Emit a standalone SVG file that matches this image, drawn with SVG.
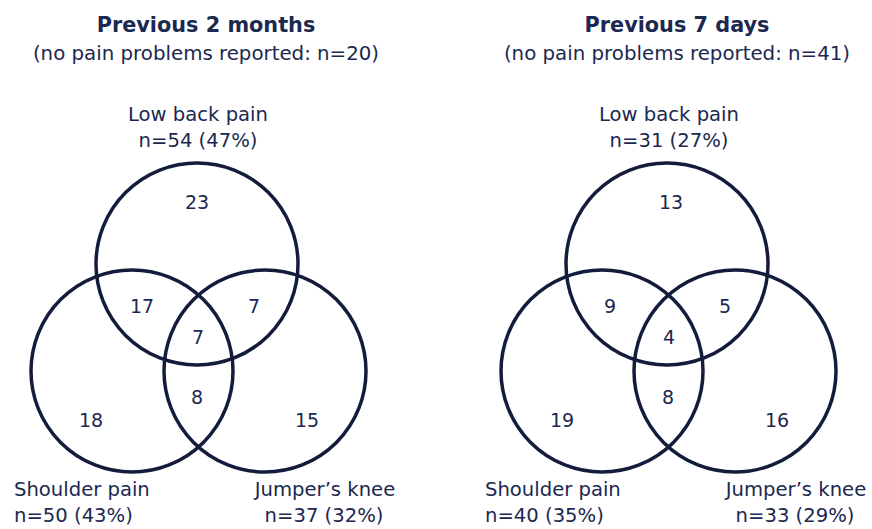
<svg xmlns="http://www.w3.org/2000/svg" width="872" height="529" viewBox="0 0 872 529">
<style>
text{font-family:"DejaVu Sans","Liberation Sans",sans-serif;fill:#1b2850;}
.t{font-size:20.8px;font-weight:bold;text-anchor:middle;}
.s{font-size:19.8px;text-anchor:middle;}
.l{font-size:19.6px;}
.c{font-size:19.6px;text-anchor:middle;}
.n{font-size:19px;text-anchor:middle;}
circle{fill:none;stroke:#141c3c;stroke-width:3.5;}
</style>
<rect width="872" height="529" fill="#ffffff"/>
<g id="left-panel">
<text class="t" x="206" y="32">Previous 2 months</text>
<text class="s" x="206" y="60">(no pain problems reported: n=20)</text>
<g id="L-lowback">
<circle cx="197" cy="264" r="101"/>
<text class="c" x="198" y="121">Low back pain</text>
<text class="c" x="198" y="147">n=54 (47%)</text>
</g>
<g id="L-shoulder">
<circle cx="132" cy="371" r="101"/>
<text class="l" x="14" y="496">Shoulder pain</text>
<text class="l" x="14" y="522">n=50 (43%)</text>
</g>
<g id="L-knee">
<circle cx="265" cy="371" r="101"/>
<text class="c" x="325" y="496">Jumper’s knee</text>
<text class="c" x="324" y="522">n=37 (32%)</text>
</g>
<g id="L-counts">
<text class="n" x="197" y="209">23</text>
<text class="n" x="142" y="313">17</text>
<text class="n" x="254" y="313">7</text>
<text class="n" x="198" y="344">7</text>
<text class="n" x="197" y="404">8</text>
<text class="n" x="91" y="427">18</text>
<text class="n" x="307" y="427">15</text>
</g>
</g>
<g id="right-panel">
<text class="t" x="677" y="32">Previous 7 days</text>
<text class="s" x="677" y="60">(no pain problems reported: n=41)</text>
<g id="R-lowback">
<circle cx="667" cy="264" r="101"/>
<text class="c" x="669" y="121">Low back pain</text>
<text class="c" x="669" y="147">n=31 (27%)</text>
</g>
<g id="R-shoulder">
<circle cx="602" cy="371" r="101"/>
<text class="l" x="485" y="496">Shoulder pain</text>
<text class="l" x="485" y="522">n=40 (35%)</text>
</g>
<g id="R-knee">
<circle cx="735" cy="371" r="101"/>
<text class="c" x="796" y="496">Jumper’s knee</text>
<text class="c" x="795" y="522">n=33 (29%)</text>
</g>
<g id="R-counts">
<text class="n" x="671" y="209">13</text>
<text class="n" x="610" y="313">9</text>
<text class="n" x="725" y="313">5</text>
<text class="n" x="669" y="344">4</text>
<text class="n" x="668" y="404">8</text>
<text class="n" x="562" y="427">19</text>
<text class="n" x="777" y="427">16</text>
</g>
</g>
<g id="connectors"></g>
</svg>
